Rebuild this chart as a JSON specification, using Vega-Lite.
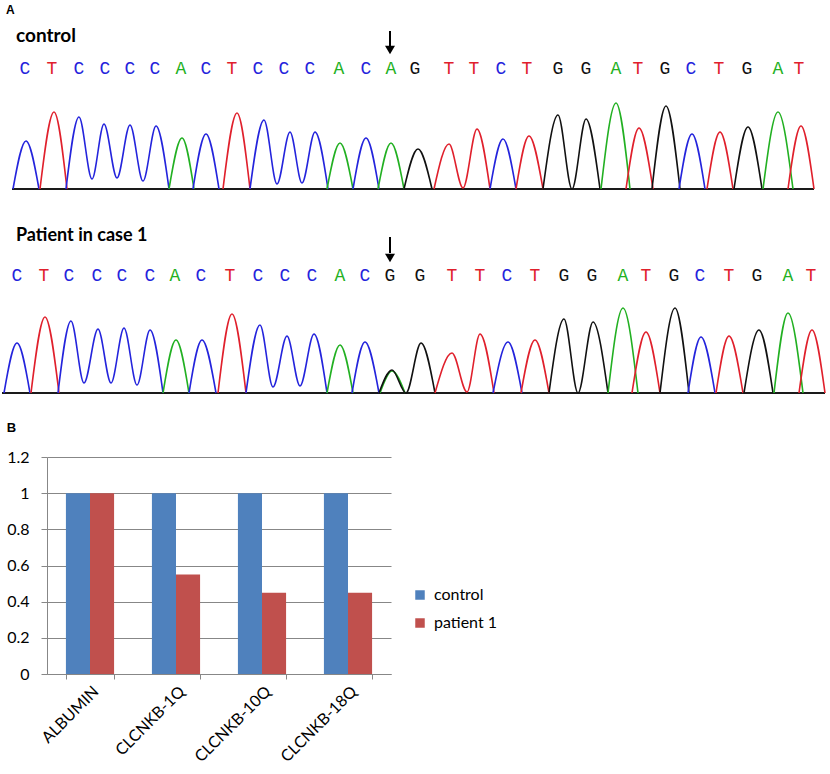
{
  "$schema": "https://vega.github.io/schema/vega-lite/v6.json",
  "padding": 0,
  "background": "white",
  "config": {"view": {"stroke": null}},
  "datasets": {
    "trace": [
      {"p":"control","seg":1,"base":"C","x":11,"y":0},{"p":"control","seg":1,"base":"C","x":24,"y":48},{"p":"control","seg":1,"base":"C","x":37,"y":0},
      {"p":"control","seg":2,"base":"T","x":38,"y":0},{"p":"control","seg":2,"base":"T","x":52,"y":77},{"p":"control","seg":2,"base":"T","x":65,"y":0},
      {"p":"control","seg":3,"base":"C","x":64,"y":0},{"p":"control","seg":3,"base":"C","x":77,"y":72},{"p":"control","seg":3,"base":"C","x":90,"y":10},{"p":"control","seg":3,"base":"C","x":102,"y":65},{"p":"control","seg":3,"base":"C","x":115,"y":11},{"p":"control","seg":3,"base":"C","x":128,"y":64},{"p":"control","seg":3,"base":"C","x":141,"y":8},{"p":"control","seg":3,"base":"C","x":154,"y":63},{"p":"control","seg":3,"base":"C","x":167,"y":0},
      {"p":"control","seg":4,"base":"A","x":167,"y":0},{"p":"control","seg":4,"base":"A","x":180,"y":51},{"p":"control","seg":4,"base":"A","x":192,"y":0},
      {"p":"control","seg":5,"base":"C","x":191,"y":0},{"p":"control","seg":5,"base":"C","x":204,"y":55},{"p":"control","seg":5,"base":"C","x":217,"y":0},
      {"p":"control","seg":6,"base":"T","x":221,"y":0},{"p":"control","seg":6,"base":"T","x":235,"y":76},{"p":"control","seg":6,"base":"T","x":248,"y":0},
      {"p":"control","seg":7,"base":"C","x":248,"y":0},{"p":"control","seg":7,"base":"C","x":262,"y":69},{"p":"control","seg":7,"base":"C","x":275,"y":5},{"p":"control","seg":7,"base":"C","x":288,"y":57},{"p":"control","seg":7,"base":"C","x":300,"y":6},{"p":"control","seg":7,"base":"C","x":313,"y":57},{"p":"control","seg":7,"base":"C","x":326,"y":0},
      {"p":"control","seg":8,"base":"A","x":325,"y":0},{"p":"control","seg":8,"base":"A","x":338,"y":46},{"p":"control","seg":8,"base":"A","x":351,"y":0},
      {"p":"control","seg":9,"base":"C","x":351,"y":0},{"p":"control","seg":9,"base":"C","x":364,"y":51},{"p":"control","seg":9,"base":"C","x":377,"y":0},
      {"p":"control","seg":10,"base":"A","x":376,"y":0},{"p":"control","seg":10,"base":"A","x":389,"y":46},{"p":"control","seg":10,"base":"A","x":402,"y":0},
      {"p":"control","seg":11,"base":"G","x":402,"y":0},{"p":"control","seg":11,"base":"G","x":416,"y":40},{"p":"control","seg":11,"base":"G","x":430,"y":0},
      {"p":"control","seg":12,"base":"T","x":432,"y":0},{"p":"control","seg":12,"base":"T","x":447,"y":45},{"p":"control","seg":12,"base":"T","x":461,"y":1},{"p":"control","seg":12,"base":"T","x":475,"y":60},{"p":"control","seg":12,"base":"T","x":488,"y":0},
      {"p":"control","seg":13,"base":"C","x":488,"y":0},{"p":"control","seg":13,"base":"C","x":501,"y":50},{"p":"control","seg":13,"base":"C","x":514,"y":0},
      {"p":"control","seg":14,"base":"T","x":514,"y":0},{"p":"control","seg":14,"base":"T","x":527,"y":53},{"p":"control","seg":14,"base":"T","x":541,"y":0},
      {"p":"control","seg":15,"base":"G","x":541,"y":0},{"p":"control","seg":15,"base":"G","x":556,"y":74},{"p":"control","seg":15,"base":"G","x":570,"y":0},{"p":"control","seg":15,"base":"G","x":584,"y":70},{"p":"control","seg":15,"base":"G","x":598,"y":0},
      {"p":"control","seg":16,"base":"A","x":599,"y":0},{"p":"control","seg":16,"base":"A","x":614,"y":86},{"p":"control","seg":16,"base":"A","x":628,"y":0},
      {"p":"control","seg":17,"base":"T","x":624,"y":0},{"p":"control","seg":17,"base":"T","x":637,"y":61},{"p":"control","seg":17,"base":"T","x":651,"y":0},
      {"p":"control","seg":18,"base":"G","x":650,"y":0},{"p":"control","seg":18,"base":"G","x":664,"y":83},{"p":"control","seg":18,"base":"G","x":678,"y":0},
      {"p":"control","seg":19,"base":"C","x":677,"y":0},{"p":"control","seg":19,"base":"C","x":690,"y":55},{"p":"control","seg":19,"base":"C","x":703,"y":0},
      {"p":"control","seg":20,"base":"T","x":705,"y":0},{"p":"control","seg":20,"base":"T","x":718,"y":57},{"p":"control","seg":20,"base":"T","x":731,"y":0},
      {"p":"control","seg":21,"base":"G","x":732,"y":0},{"p":"control","seg":21,"base":"G","x":746,"y":62},{"p":"control","seg":21,"base":"G","x":760,"y":0},
      {"p":"control","seg":22,"base":"A","x":761,"y":0},{"p":"control","seg":22,"base":"A","x":776,"y":77},{"p":"control","seg":22,"base":"A","x":791,"y":0},
      {"p":"control","seg":23,"base":"T","x":786,"y":0},{"p":"control","seg":23,"base":"T","x":799,"y":63},{"p":"control","seg":23,"base":"T","x":812,"y":0},

      {"p":"patient","seg":1,"base":"C","x":2,"y":0},{"p":"patient","seg":1,"base":"C","x":15,"y":50},{"p":"patient","seg":1,"base":"C","x":28,"y":0},
      {"p":"patient","seg":2,"base":"T","x":29,"y":0},{"p":"patient","seg":2,"base":"T","x":43,"y":76},{"p":"patient","seg":2,"base":"T","x":57,"y":0},
      {"p":"patient","seg":3,"base":"C","x":56,"y":0},{"p":"patient","seg":3,"base":"C","x":69,"y":72},{"p":"patient","seg":3,"base":"C","x":82,"y":10},{"p":"patient","seg":3,"base":"C","x":96,"y":64},{"p":"patient","seg":3,"base":"C","x":109,"y":10},{"p":"patient","seg":3,"base":"C","x":122,"y":65},{"p":"patient","seg":3,"base":"C","x":135,"y":8},{"p":"patient","seg":3,"base":"C","x":148,"y":63},{"p":"patient","seg":3,"base":"C","x":161,"y":0},
      {"p":"patient","seg":4,"base":"A","x":161,"y":0},{"p":"patient","seg":4,"base":"A","x":174,"y":53},{"p":"patient","seg":4,"base":"A","x":187,"y":0},
      {"p":"patient","seg":5,"base":"C","x":187,"y":0},{"p":"patient","seg":5,"base":"C","x":200,"y":53},{"p":"patient","seg":5,"base":"C","x":214,"y":0},
      {"p":"patient","seg":6,"base":"T","x":216,"y":0},{"p":"patient","seg":6,"base":"T","x":230,"y":79},{"p":"patient","seg":6,"base":"T","x":244,"y":0},
      {"p":"patient","seg":7,"base":"C","x":244,"y":0},{"p":"patient","seg":7,"base":"C","x":258,"y":68},{"p":"patient","seg":7,"base":"C","x":271,"y":6},{"p":"patient","seg":7,"base":"C","x":285,"y":57},{"p":"patient","seg":7,"base":"C","x":298,"y":7},{"p":"patient","seg":7,"base":"C","x":312,"y":59},{"p":"patient","seg":7,"base":"C","x":325,"y":0},
      {"p":"patient","seg":8,"base":"A","x":325,"y":0},{"p":"patient","seg":8,"base":"A","x":338,"y":48},{"p":"patient","seg":8,"base":"A","x":351,"y":0},
      {"p":"patient","seg":9,"base":"C","x":350,"y":0},{"p":"patient","seg":9,"base":"C","x":363,"y":51},{"p":"patient","seg":9,"base":"C","x":377,"y":0},
      {"p":"patient","seg":10,"base":"A","x":378,"y":0},{"p":"patient","seg":10,"base":"A","x":390,"y":22},{"p":"patient","seg":10,"base":"A","x":403,"y":0},
      {"p":"patient","seg":11,"base":"G","x":377,"y":0},{"p":"patient","seg":11,"base":"G","x":390,"y":23},{"p":"patient","seg":11,"base":"G","x":404,"y":0},{"p":"patient","seg":11,"base":"G","x":419,"y":50},{"p":"patient","seg":11,"base":"G","x":433,"y":0},
      {"p":"patient","seg":12,"base":"T","x":433,"y":0},{"p":"patient","seg":12,"base":"T","x":450,"y":40},{"p":"patient","seg":12,"base":"T","x":465,"y":1},{"p":"patient","seg":12,"base":"T","x":478,"y":59},{"p":"patient","seg":12,"base":"T","x":492,"y":0},
      {"p":"patient","seg":13,"base":"C","x":491,"y":0},{"p":"patient","seg":13,"base":"C","x":506,"y":51},{"p":"patient","seg":13,"base":"C","x":520,"y":0},
      {"p":"patient","seg":14,"base":"T","x":519,"y":0},{"p":"patient","seg":14,"base":"T","x":533,"y":53},{"p":"patient","seg":14,"base":"T","x":547,"y":0},
      {"p":"patient","seg":15,"base":"G","x":547,"y":0},{"p":"patient","seg":15,"base":"G","x":562,"y":74},{"p":"patient","seg":15,"base":"G","x":576,"y":0},{"p":"patient","seg":15,"base":"G","x":591,"y":71},{"p":"patient","seg":15,"base":"G","x":606,"y":0},
      {"p":"patient","seg":16,"base":"A","x":606,"y":0},{"p":"patient","seg":16,"base":"A","x":621,"y":85},{"p":"patient","seg":16,"base":"A","x":636,"y":0},
      {"p":"patient","seg":17,"base":"T","x":630,"y":0},{"p":"patient","seg":17,"base":"T","x":644,"y":61},{"p":"patient","seg":17,"base":"T","x":658,"y":0},
      {"p":"patient","seg":18,"base":"G","x":658,"y":0},{"p":"patient","seg":18,"base":"G","x":673,"y":85},{"p":"patient","seg":18,"base":"G","x":687,"y":0},
      {"p":"patient","seg":19,"base":"C","x":686,"y":0},{"p":"patient","seg":19,"base":"C","x":699,"y":56},{"p":"patient","seg":19,"base":"C","x":713,"y":0},
      {"p":"patient","seg":20,"base":"T","x":714,"y":0},{"p":"patient","seg":20,"base":"T","x":727,"y":57},{"p":"patient","seg":20,"base":"T","x":741,"y":0},
      {"p":"patient","seg":21,"base":"G","x":742,"y":0},{"p":"patient","seg":21,"base":"G","x":757,"y":63},{"p":"patient","seg":21,"base":"G","x":771,"y":0},
      {"p":"patient","seg":22,"base":"A","x":772,"y":0},{"p":"patient","seg":22,"base":"A","x":786,"y":80},{"p":"patient","seg":22,"base":"A","x":801,"y":0},
      {"p":"patient","seg":23,"base":"T","x":797,"y":0},{"p":"patient","seg":23,"base":"T","x":810,"y":63},{"p":"patient","seg":23,"base":"T","x":823,"y":0}
    ],
    "letters": [
      {"p":"control","base":"C","x":23},{"p":"control","base":"T","x":50},{"p":"control","base":"C","x":77},{"p":"control","base":"C","x":103},{"p":"control","base":"C","x":128},{"p":"control","base":"C","x":153},{"p":"control","base":"A","x":179},{"p":"control","base":"C","x":204},{"p":"control","base":"T","x":230},{"p":"control","base":"C","x":256},{"p":"control","base":"C","x":282},{"p":"control","base":"C","x":308},{"p":"control","base":"A","x":337},{"p":"control","base":"C","x":364},{"p":"control","base":"A","x":389},
      {"p":"control","base":"G","x":413},{"p":"control","base":"T","x":447},{"p":"control","base":"T","x":472},{"p":"control","base":"C","x":499},{"p":"control","base":"T","x":525},{"p":"control","base":"G","x":556},{"p":"control","base":"G","x":584},{"p":"control","base":"A","x":614},{"p":"control","base":"T","x":636},{"p":"control","base":"G","x":663},{"p":"control","base":"C","x":689},{"p":"control","base":"T","x":717},{"p":"control","base":"G","x":745},{"p":"control","base":"A","x":776},{"p":"control","base":"T","x":797},
      {"p":"patient","base":"C","x":15},{"p":"patient","base":"T","x":42},{"p":"patient","base":"C","x":67},{"p":"patient","base":"C","x":95},{"p":"patient","base":"C","x":120},{"p":"patient","base":"C","x":148},{"p":"patient","base":"A","x":173},{"p":"patient","base":"C","x":199},{"p":"patient","base":"T","x":228},{"p":"patient","base":"C","x":256},{"p":"patient","base":"C","x":283},{"p":"patient","base":"C","x":310},{"p":"patient","base":"A","x":338},{"p":"patient","base":"C","x":363},{"p":"patient","base":"G","x":388},
      {"p":"patient","base":"G","x":418},{"p":"patient","base":"T","x":450},{"p":"patient","base":"T","x":478},{"p":"patient","base":"C","x":505},{"p":"patient","base":"T","x":533},{"p":"patient","base":"G","x":562},{"p":"patient","base":"G","x":590},{"p":"patient","base":"A","x":621},{"p":"patient","base":"T","x":644},{"p":"patient","base":"G","x":672},{"p":"patient","base":"C","x":698},{"p":"patient","base":"T","x":727},{"p":"patient","base":"G","x":755},{"p":"patient","base":"A","x":786},{"p":"patient","base":"T","x":809}
    ],
    "arrows": [{"p":"control","x":388},{"p":"patient","x":388}],
    "baseline": [{"p":"control","x":10,"x2":812},{"p":"patient","x":0,"x2":823}],
    "bars": [
      {"gene":"ALBUMIN","group":"control","value":1},{"gene":"ALBUMIN","group":"patient 1","value":1},
      {"gene":"CLCNKB-1Q","group":"control","value":1},{"gene":"CLCNKB-1Q","group":"patient 1","value":0.55},
      {"gene":"CLCNKB-10Q","group":"control","value":1},{"gene":"CLCNKB-10Q","group":"patient 1","value":0.45},
      {"gene":"CLCNKB-18Q","group":"control","value":1},{"gene":"CLCNKB-18Q","group":"patient 1","value":0.45}
    ]
  },
  "bounds": "flush",
  "spacing": 0,
  "resolve": {"scale": {"x": "independent", "y": "independent", "color": "independent"}},
  "vconcat": [
    {
      "width": 830, "height": 196,
      "layer": [
        {"data": {"name": "baseline"}, "transform": [{"filter": "datum.p === 'control'"}],
         "mark": {"type": "rule", "color": "#1a1a1a", "strokeWidth": 2},
         "encoding": {
           "x": {"field": "x", "type": "quantitative", "scale": {"domain": [0, 830], "nice": false, "zero": false}, "axis": null},
           "x2": {"field": "x2"},
           "y": {"datum": 0, "type": "quantitative", "scale": {"domain": [-7, 189], "nice": false, "zero": false}, "axis": null}}},
        {"data": {"name": "trace"}, "transform": [{"filter": "datum.p === 'control'"}],
         "mark": {"type": "line", "interpolate": "monotone", "strokeWidth": 1.6},
         "encoding": {
           "x": {"field": "x", "type": "quantitative"},
           "y": {"field": "y", "type": "quantitative"},
           "detail": {"field": "seg"},
           "color": {"field": "base", "type": "nominal", "scale": {"domain": ["A", "C", "G", "T"], "range": ["#22b022", "#2424dc", "#111111", "#e0202c"]}, "legend": null}}},
        {"data": {"name": "letters"}, "transform": [{"filter": "datum.p === 'control'"}],
         "mark": {"type": "text", "font": "Liberation Mono", "fontSize": 18, "baseline": "alphabetic"},
         "encoding": {
           "x": {"field": "x", "type": "quantitative"},
           "y": {"datum": 115},
           "text": {"field": "base"},
           "color": {"field": "base", "type": "nominal", "legend": null}}},
        {"data": {"name": "arrows"}, "transform": [{"filter": "datum.p === 'control'"}],
         "mark": {"type": "rule", "color": "black", "strokeWidth": 2},
         "encoding": {"x": {"field": "x", "type": "quantitative"}, "y": {"datum": 158}, "y2": {"datum": 143}}},
        {"data": {"name": "arrows"}, "transform": [{"filter": "datum.p === 'control'"}],
         "mark": {"type": "point", "shape": "triangle-down", "filled": true, "color": "black", "opacity": 1, "size": 100},
         "encoding": {"x": {"field": "x", "type": "quantitative"}, "y": {"datum": 139}}},
        {"data": {"values": [{}]},
         "mark": {"type": "text", "text": "A", "font": "Liberation Sans", "fontWeight": "bold", "fontSize": 12, "align": "left", "baseline": "alphabetic", "color": "black"},
         "encoding": {"x": {"datum": 4}, "y": {"datum": 175}}},
        {"data": {"values": [{}]},
         "mark": {"type": "text", "text": "control", "font": "Lato", "fontWeight": "bold", "fontSize": 19, "align": "left", "baseline": "alphabetic", "color": "black"},
         "encoding": {"x": {"datum": 14}, "y": {"datum": 147}}}
      ]
    },
    {
      "width": 830, "height": 261,
      "layer": [
        {"data": {"name": "baseline"}, "transform": [{"filter": "datum.p === 'patient'"}],
         "mark": {"type": "rule", "color": "#1a1a1a", "strokeWidth": 2},
         "encoding": {
           "x": {"field": "x", "type": "quantitative", "scale": {"domain": [0, 830], "nice": false, "zero": false}, "axis": null},
           "x2": {"field": "x2"},
           "y": {"datum": 0, "type": "quantitative", "scale": {"domain": [-64, 197], "nice": false, "zero": false}, "axis": null}}},
        {"data": {"name": "trace"}, "transform": [{"filter": "datum.p === 'patient'"}],
         "mark": {"type": "line", "interpolate": "monotone", "strokeWidth": 1.6},
         "encoding": {
           "x": {"field": "x", "type": "quantitative"},
           "y": {"field": "y", "type": "quantitative"},
           "detail": {"field": "seg"},
           "color": {"field": "base", "type": "nominal", "scale": {"domain": ["A", "C", "G", "T"], "range": ["#22b022", "#2424dc", "#111111", "#e0202c"]}, "legend": null}}},
        {"data": {"name": "letters"}, "transform": [{"filter": "datum.p === 'patient'"}],
         "mark": {"type": "text", "font": "Liberation Mono", "fontSize": 18, "baseline": "alphabetic"},
         "encoding": {
           "x": {"field": "x", "type": "quantitative"},
           "y": {"datum": 112},
           "text": {"field": "base"},
           "color": {"field": "base", "type": "nominal", "legend": null}}},
        {"data": {"name": "arrows"}, "transform": [{"filter": "datum.p === 'patient'"}],
         "mark": {"type": "rule", "color": "black", "strokeWidth": 2},
         "encoding": {"x": {"field": "x", "type": "quantitative"}, "y": {"datum": 156}, "y2": {"datum": 140}}},
        {"data": {"name": "arrows"}, "transform": [{"filter": "datum.p === 'patient'"}],
         "mark": {"type": "point", "shape": "triangle-down", "filled": true, "color": "black", "opacity": 1, "size": 100},
         "encoding": {"x": {"field": "x", "type": "quantitative"}, "y": {"datum": 135}}},
        {"data": {"values": [{}]},
         "mark": {"type": "text", "text": "Patient in case 1", "font": "Lato", "fontWeight": "bold", "fontSize": 18, "align": "left", "baseline": "alphabetic", "color": "black"},
         "encoding": {"x": {"datum": 14}, "y": {"datum": 152}}}
      ]
    },
    {
      "bounds": "flush",
      "spacing": 0,
      "hconcat": [
        {"width": 45, "height": 217, "data": {"values": [{}]}, "mark": {"type": "text", "text": ""}, "encoding": {}},
        {
          "title": {"text": "B", "anchor": "start", "frame": "bounds", "font": "Liberation Sans", "fontSize": 13, "fontWeight": "bold", "color": "black", "offset": 4, "baseline": "alphabetic"},
          "width": 344, "height": 217,
          "data": {"name": "bars"},
          "mark": {"type": "bar"},
          "encoding": {
            "x": {"field": "gene", "type": "nominal", "sort": null,
                  "scale": {"paddingInner": 0.44, "paddingOuter": 0.22},
                  "axis": {"title": null, "labelAngle": -45, "labelFont": "Lato", "labelFontSize": 16, "labelColor": "black", "domainColor": "#878787", "tickColor": "#878787", "tickBand": "extent", "tickSize": 5, "labelPadding": 4}},
            "xOffset": {"field": "group", "type": "nominal", "sort": null, "scale": {"paddingInner": 0, "paddingOuter": 0}},
            "y": {"field": "value", "type": "quantitative",
                  "scale": {"domain": [0, 1.2], "nice": false},
                  "axis": {"title": null, "values": [0, 0.2, 0.4, 0.6, 0.8, 1, 1.2], "format": ".1~f", "labelFont": "Lato", "labelFontSize": 16, "labelColor": "black", "domainColor": "#878787", "tickColor": "#878787", "gridColor": "#878787", "gridOpacity": 1, "tickSize": 6, "labelPadding": 12}},
            "color": {"field": "group", "type": "nominal", "sort": null,
                      "scale": {"domain": ["control", "patient 1"], "range": ["#4F81BD", "#C0504D"]},
                      "legend": {"title": null, "orient": "none", "legendX": 410, "legendY": 130, "padding": 0, "symbolType": "square", "symbolSize": 90, "symbolStrokeWidth": 0, "symbolOpacity": 1, "labelFont": "Lato", "labelFontSize": 16, "labelColor": "black", "rowPadding": 12, "labelOffset": 6}}
          }
        }
      ]
    }
  ]
}
